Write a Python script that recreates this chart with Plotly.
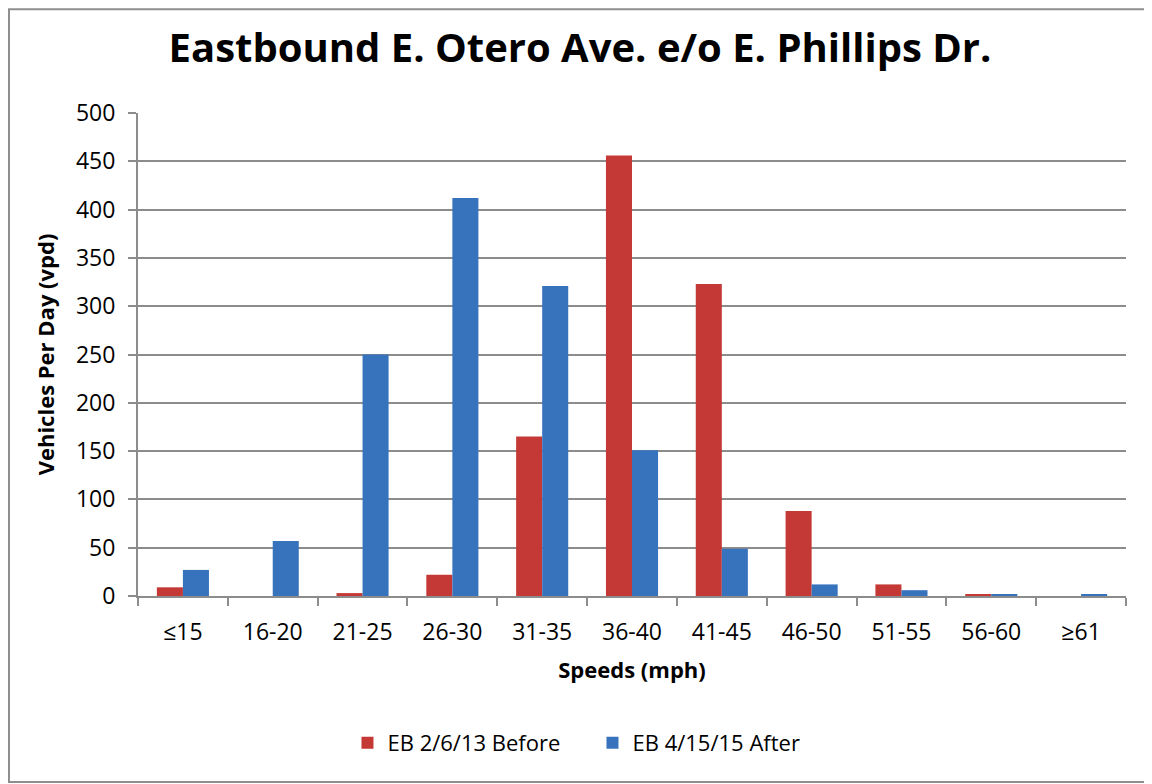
import plotly.graph_objects as go

# speed bins (mph)
categories = ["≤15", "16-20", "21-25", "26-30", "31-35", "36-40",
              "41-45", "46-50", "51-55", "56-60", "≥61"]

# vehicles per day
before_vpd = [9, 0, 3, 22, 165, 456, 323, 88, 12, 2, 0]
after_vpd = [27, 57, 250, 412, 321, 151, 49, 12, 6, 2, 2]

before_name = "EB 2/6/13 Before"
after_name = "EB 4/15/15 After"

FONT = "Open Sans"
GRID = "#8c8c8c"

fig = go.Figure()

fig.add_trace(go.Bar(
    x=categories,
    y=before_vpd,
    name=before_name,
    marker=dict(color="#c43935", line=dict(width=0)),
))
fig.add_trace(go.Bar(
    x=categories,
    y=after_vpd,
    name=after_name,
    marker=dict(color="#3773bd", line=dict(width=0)),
))

# thin grey frame around the chart area (left, top, bottom)
fig.add_shape(type="rect", xref="paper", yref="paper",
              x0=-0.1306, x1=1.06, y0=-0.385, y1=1.215,
              line=dict(color="#8e8e8e", width=2), layer="below")

fig.update_layout(
    width=1144,
    height=776,
    margin=dict(l=130, r=26, t=105, b=188, autoexpand=False),
    paper_bgcolor="white",
    plot_bgcolor="white",
    font=dict(family=FONT, color="black", size=22),
    title=dict(
        text="<b>Eastbound E. Otero Ave. e/o E. Phillips Dr.</b>",
        x=0.5, xanchor="center",
        y=1 - 40 / 776, yanchor="middle",
        font=dict(size=40, family=FONT),
    ),
    barmode="group",
    bargap=0.42,
    bargroupgap=0,
    showlegend=True,
    legend=dict(
        orientation="h",
        x=0.46, xanchor="center",
        y=-0.304, yanchor="middle",
        font=dict(size=22),
        entrywidth=200,
        entrywidthmode="pixels",
        traceorder="normal",
    ),
)

fig.update_xaxes(
    title=dict(text="<b>Speeds (mph)</b>", font=dict(size=22), standoff=17),
    showline=True, linecolor=GRID, linewidth=2,
    ticks="outside", tickson="boundaries", ticklen=8, tickcolor=GRID, tickwidth=2,
    ticklabelstandoff=14,
    showgrid=False,
    tickfont=dict(size=23),
)

fig.update_yaxes(
    title=dict(text="<b>Vehicles Per Day (vpd)</b>", font=dict(size=22), standoff=15),
    range=[0, 500], dtick=50,
    showline=True, linecolor=GRID, linewidth=2,
    ticks="outside", ticklen=8, tickcolor=GRID, tickwidth=2,
    ticklabelstandoff=8,
    showgrid=True, gridcolor=GRID, gridwidth=2,
    zeroline=False,
    tickfont=dict(size=23),
)

fig.write_html("out.html")
